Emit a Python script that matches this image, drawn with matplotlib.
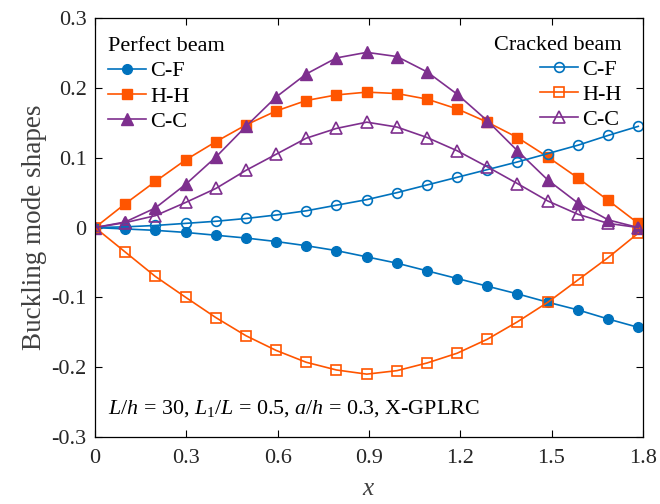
import matplotlib
matplotlib.use('Agg')
import matplotlib.pyplot as plt

plt.rcParams['font.family'] = ['Liberation Serif', 'DejaVu Serif']
plt.rcParams['mathtext.fontset'] = 'custom'
plt.rcParams['mathtext.rm'] = 'Liberation Serif'
plt.rcParams['mathtext.it'] = 'Liberation Serif:italic'

# positions along the beam
x = [0, 0.099, 0.198, 0.298, 0.397, 0.496, 0.595, 0.694, 0.793, 0.893,
     0.992, 1.091, 1.190, 1.289, 1.388, 1.488, 1.587, 1.686, 1.785]

# perfect beam
perf_cf = [0, -0.002, -0.004, -0.007, -0.011, -0.015, -0.020, -0.026, -0.033, -0.042,
           -0.051, -0.062, -0.073, -0.084, -0.095, -0.107, -0.118, -0.131, -0.143]
perf_hh = [0, 0.034, 0.066, 0.097, 0.123, 0.147, 0.167, 0.182, 0.190, 0.194,
           0.192, 0.184, 0.170, 0.151, 0.129, 0.101, 0.071, 0.039, 0.006]
perf_cc = [0, 0.008, 0.028, 0.062, 0.101, 0.145, 0.187, 0.220, 0.243, 0.251,
           0.245, 0.223, 0.191, 0.153, 0.110, 0.068, 0.035, 0.011, 0]

# cracked beam
crk_cf = [0, 0.001, 0.003, 0.006, 0.009, 0.013, 0.018, 0.024, 0.032, 0.040,
          0.050, 0.061, 0.072, 0.083, 0.094, 0.106, 0.118, 0.132, 0.145]
crk_hh = [0, -0.035, -0.070, -0.100, -0.129, -0.155, -0.176, -0.193, -0.204, -0.210,
          -0.205, -0.194, -0.180, -0.160, -0.135, -0.107, -0.075, -0.043, -0.008]
crk_cc = [0, 0.007, 0.017, 0.036, 0.056, 0.082, 0.105, 0.128, 0.142, 0.151,
          0.144, 0.129, 0.110, 0.087, 0.063, 0.038, 0.019, 0.006, 0]

labels = ['C-F', 'H-H', 'C-C']
colors = ['#0072BD', '#FF5500', '#7E2F8E']
markers = ['o', 's', '^']
msizes = [7, 6.5, 8]

fig = plt.figure(figsize=(6.6, 5.04), dpi=100)
ax = fig.add_axes([0.144, 0.133, 0.83, 0.831])

perf = [perf_cf, perf_hh, perf_cc]
crk = [crk_cf, crk_hh, crk_cc]
h_perf, h_crk = [], []
for i in range(3):
    l, = ax.plot(x, perf[i], color=colors[i], marker=markers[i], ms=msizes[i], lw=1.2,
                 mfc=colors[i], mec=colors[i])
    h_perf.append(l)
for i in range(3):
    l, = ax.plot(x, crk[i], color=colors[i], marker=markers[i], ms=msizes[i], lw=1.2,
                 mfc='none', mec=colors[i], mew=1.2)
    h_crk.append(l)

ax.set_xlim(0, 1.8)
ax.set_ylim(-0.3, 0.3)
ax.set_xticks([0, 0.3, 0.6, 0.9, 1.2, 1.5, 1.8])
ax.set_xticklabels(['0', '0.3', '0.6', '0.9', '1.2', '1.5', '1.8'])
ax.set_yticks([-0.3, -0.2, -0.1, 0, 0.1, 0.2, 0.3])
ax.set_yticklabels(['-0.3', '-0.2', '-0.1', '0', '0.1', '0.2', '0.3'])
ax.tick_params(direction='in', top=True, right=True, labelsize=16,
               labelcolor='#262626', length=5, width=0.8)
ax.tick_params(axis='y', pad=6)
ax.tick_params(axis='x', pad=9)
for s in ax.spines.values():
    s.set_linewidth(0.9)

ax.set_xlabel('$x$', fontsize=18, color='#404040', labelpad=7)
ax.set_ylabel('Buckling mode shapes', fontsize=19.5, color='#404040', labelpad=3)

leg1 = ax.legend(h_perf, labels, title='Perfect beam', loc='upper left',
                 frameon=False, fontsize=16, title_fontsize=16, handlelength=1.7,
                 handletextpad=0.2, borderaxespad=0.2, labelspacing=0.22,
                 bbox_to_anchor=(0.0, 0.987))
leg1._legend_box.align = 'left'
ax.add_artist(leg1)
leg2 = ax.legend(h_crk, labels, title='Cracked beam', loc='upper right',
                 frameon=False, fontsize=16, title_fontsize=16, handlelength=1.7,
                 handletextpad=0.2, borderaxespad=0.2, labelspacing=0.2,
                 bbox_to_anchor=(0.986, 0.99))
leg2._legend_box.align = 'right'

ax.text(0.024, 0.069, '$L/h$ = 30, $L_1/L$ = 0.5, $a/h$ = 0.3, X-GPLRC',
        transform=ax.transAxes, fontsize=15.8, color='black', va='center')

fig.savefig('out.png', dpi=100)
